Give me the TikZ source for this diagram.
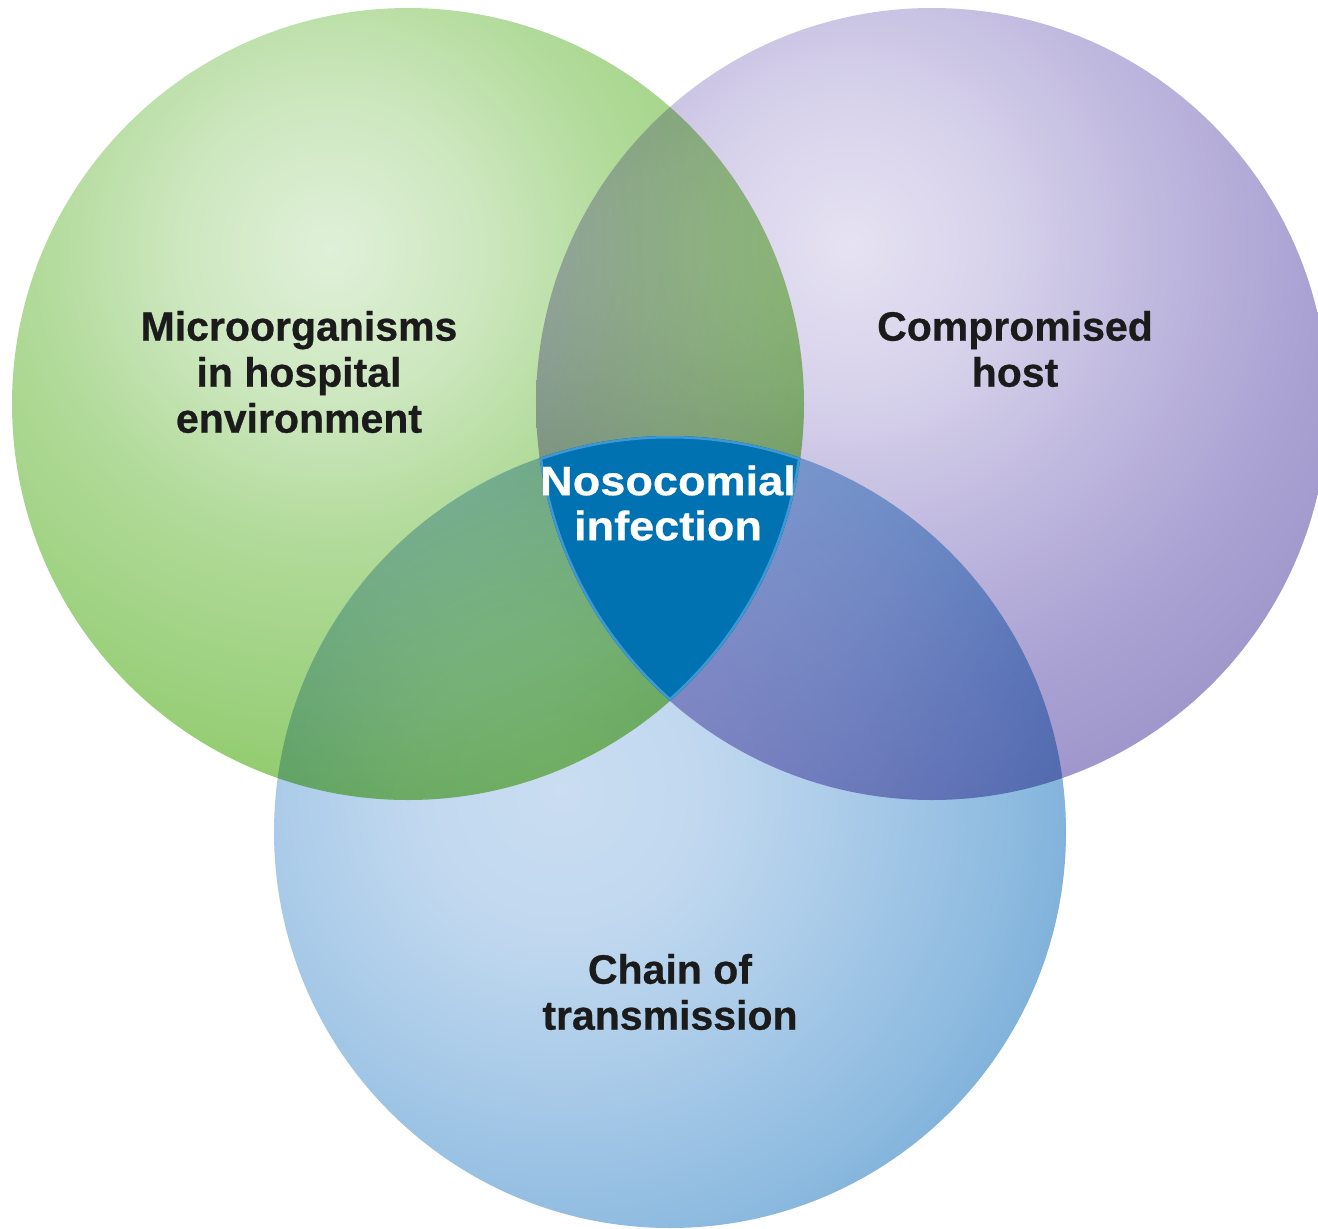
\documentclass[tikz,border=0pt]{standalone}
\usepackage{fontspec}
\setmainfont{Liberation Sans}[BoldFeatures={FakeBold=0.6}]
\newfontfamily\nosofont{Liberation Sans}[FakeStretch=1.1,BoldFeatures={FakeBold=0.6}]
\definecolor{gA}{HTML}{E0F0D9}
\definecolor{gB}{HTML}{CDE7BF}
\definecolor{gC}{HTML}{B0DA98}
\definecolor{gD}{HTML}{9DD17F}
\definecolor{gE}{HTML}{8CC966}
\definecolor{pA}{HTML}{E6E2F2}
\definecolor{pB}{HTML}{D7D2EB}
\definecolor{pC}{HTML}{C0B9DF}
\definecolor{pD}{HTML}{ABA3D3}
\definecolor{pE}{HTML}{9F96CB}
\definecolor{bA}{HTML}{CADDF1}
\definecolor{bB}{HTML}{C0D8EF}
\definecolor{bC}{HTML}{A8CAE8}
\definecolor{bD}{HTML}{8EBBE0}
\definecolor{bE}{HTML}{78ACD7}
\definecolor{nosoblue}{HTML}{0071B1}
\definecolor{rimblue}{HTML}{3D98D3}
\definecolor{labelink}{HTML}{1B1B1B}
\pgfdeclareradialshading{greenball}{\pgfpoint{0bp}{0bp}}{color(0bp)=(gA); color(6.5bp)=(gB); color(13bp)=(gC); color(19.5bp)=(gD); color(25bp)=(gE); color(50bp)=(gE)}
\pgfdeclareradialshading{purpleball}{\pgfpoint{0bp}{0bp}}{color(0bp)=(pA); color(6.5bp)=(pB); color(13bp)=(pC); color(19.5bp)=(pD); color(25bp)=(pE); color(50bp)=(pE)}
\pgfdeclareradialshading{blueball}{\pgfpoint{0bp}{0bp}}{color(0bp)=(bA); color(6.7bp)=(bB); color(13.4bp)=(bC); color(20.1bp)=(bD); color(25bp)=(bE); color(50bp)=(bE)}
\begin{document}
\begin{tikzpicture}[x=1pt,y=-1pt,
  labeltext/.style={font=\bfseries\fontsize{41}{46}\selectfont, text=labelink, align=center, inner sep=0pt},
  nosotext/.style={font=\nosofont\bfseries\fontsize{41}{45}\selectfont, text=white, align=center, inner sep=0pt},
  rim/.style={draw=rimblue, line width=5pt},
]
\useasboundingbox (0,0) rectangle (1318,1229);
\coordinate (G) at (408,404);
\coordinate (P) at (932,404);
\coordinate (B) at (670,832);
\coordinate (Gh) at (330,250);
\coordinate (Ph) at (850,245);
\coordinate (Bh) at (560,790);
\begin{scope}
  \clip (0,0) rectangle (1318,1229);
  \begin{scope}[blend mode=multiply]
    \begin{scope}
      \clip (G) circle (396);
      \shade[shading=greenball] (Gh) circle (580);
    \end{scope}
    \begin{scope}
      \clip (P) circle (396);
      \shade[shading=purpleball] (Ph) circle (580);
    \end{scope}
    \begin{scope}
      \clip (B) circle (396);
      \shade[shading=blueball] (Bh) circle (560);
    \end{scope}
  \end{scope}
  \begin{scope}
    \clip (G) circle (396);
    \clip (P) circle (396);
    \clip (B) circle (396);
    \fill[nosoblue] (0,0) rectangle (1318,1229);
    \draw[rim] (B) circle (396);
    \draw[rim] (G) circle (396);
    \draw[rim] (P) circle (396);
  \end{scope}
\end{scope}
\node[labeltext] (micro) at (299,372) {Microorganisms\\in hospital\\environment};
\node[labeltext] (host) at (1015,349) {Compromised\\host};
\node[labeltext] (chain) at (670,992) {Chain of\\transmission};
\node[nosotext] (noso) at (668,503) {Nosocomial\\infection};
\end{tikzpicture}
\end{document}
